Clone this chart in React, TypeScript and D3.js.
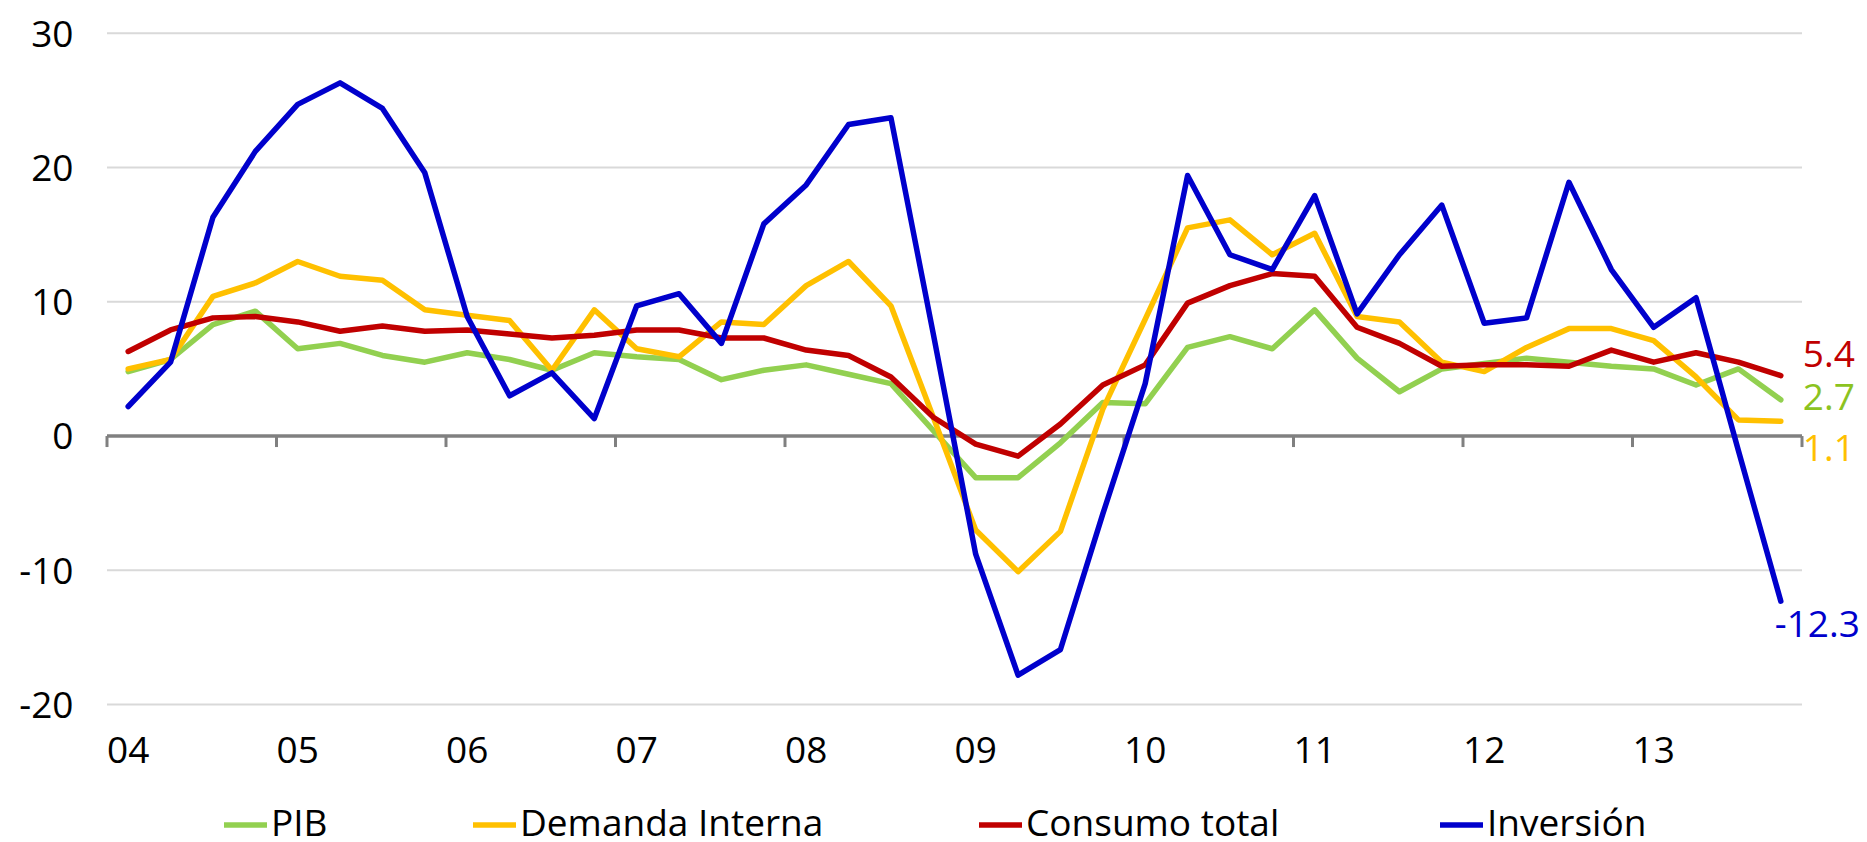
import * as d3 from "d3";

// quarters 2004 Q1 .. 2013 Q4
const years = ["04", "05", "06", "07", "08", "09", "10", "11", "12", "13"];
const quarters = d3.range(40);

const pib = [
  4.8, 5.7, 8.3, 9.3, 6.5, 6.9, 6.0, 5.5, 6.2, 5.7, 4.9, 6.2, 5.9, 5.7, 4.2, 4.9, 5.3, 4.6, 3.9, 0.4,
  -3.1, -3.1, -0.5, 2.5, 2.4, 6.6, 7.4, 6.5, 9.4, 5.8, 3.3, 5.0, 5.4, 5.8, 5.5, 5.2, 5.0, 3.8, 5.0, 2.7,
];
const demanda = [
  5.0, 5.7, 10.4, 11.4, 13.0, 11.9, 11.6, 9.4, 9.0, 8.6, 4.9, 9.4, 6.5, 5.9, 8.5, 8.3, 11.2, 13.0, 9.7, 1.4,
  -7.0, -10.1, -7.1, 2.0, 8.7, 15.5, 16.1, 13.5, 15.1, 8.9, 8.5, 5.5, 4.8, 6.6, 8.0, 8.0, 7.1, 4.4, 1.2, 1.1,
];
const consumo = [
  6.3, 7.9, 8.8, 8.9, 8.5, 7.8, 8.2, 7.8, 7.9, 7.6, 7.3, 7.5, 7.9, 7.9, 7.3, 7.3, 6.4, 6.0, 4.4, 1.4,
  -0.6, -1.5, 0.9, 3.8, 5.3, 9.9, 11.2, 12.1, 11.9, 8.1, 6.9, 5.2, 5.3, 5.3, 5.2, 6.4, 5.5, 6.2, 5.5, 4.5,
];
const inversion = [
  2.2, 5.5, 16.3, 21.2, 24.7, 26.3, 24.4, 19.6, 8.9, 3.0, 4.7, 1.3, 9.7, 10.6, 6.9, 15.8, 18.7, 23.2, 23.7, 7.6,
  -8.8, -17.8, -15.9, -5.8, 3.9, 19.4, 13.5, 12.4, 17.9, 9.1, 13.5, 17.2, 8.4, 8.8, 18.9, 12.4, 8.1, 10.3, -1.1, -12.3,
];

const seriesNames = ["PIB", "Demanda Interna", "Consumo total", "Inversión"];
const endLabels = ["2.7", "1.1", "5.4", "-12.3"];
const yTicks = [30, 20, 10, 0, -10, -20];

const series = [
  { name: seriesNames[0], values: pib, color: "#92D050", text: "#8CC31F", label: endLabels[0], dx: 22, dy: 10 },
  { name: seriesNames[1], values: demanda, color: "#FFC000", text: "#FFC000", label: endLabels[1], dx: 22, dy: 40 },
  { name: seriesNames[2], values: consumo, color: "#C00000", text: "#C00000", label: endLabels[2], dx: 22, dy: -9 },
  { name: seriesNames[3], values: inversion, color: "#0000CC", text: "#0000CC", label: endLabels[3], dx: -6, dy: 36 },
];

const legendX = [224, 473, 979, 1440];

export default function App() {
  const width = 1867;
  const height = 842;
  const left = 107;
  const right = 1802;
  const font = "'Open Sans', sans-serif";

  const x = d3.scaleBand<number>().domain(quarters).range([left, right]).padding(0);
  const y = d3.scaleLinear().domain([-20, 30]).range([704.6, 33.2]);
  const cx = (i: number) => (x(i) as number) + x.bandwidth() / 2;

  const line = d3
    .line<number>()
    .x((_, i) => cx(i))
    .y((d) => y(d));

  const tickXs = years.map((_, k) => x(k * 4) as number).concat([right]);

  return (
    <svg
      width={width}
      height={height}
      style={{ position: "absolute", left: 0, top: 0, background: "#fff" }}
      fontFamily={font}
    >
      {/* grid */}
      {yTicks
        .filter((t) => t !== 0)
        .map((t) => (
          <line key={t} x1={left} x2={right} y1={y(t)} y2={y(t)} stroke="#D9D9D9" strokeWidth={2} />
        ))}
      {yTicks.map((t) => (
        <text key={"l" + t} x={73.5} y={y(t) + 13.4} textAnchor="end" fontSize={37} fill="#000">
          {t}
        </text>
      ))}

      {/* zero axis with year ticks */}
      <line x1={left} x2={right} y1={y(0)} y2={y(0)} stroke="#808080" strokeWidth={3.5} />
      {tickXs.map((tx, k) => (
        <line key={"t" + k} x1={tx} x2={tx} y1={y(0)} y2={y(0) + 11} stroke="#808080" strokeWidth={3} />
      ))}

      {years.map((yr, k) => (
        <text key={yr} x={cx(k * 4)} y={763} textAnchor="middle" fontSize={37} fill="#000">
          {yr}
        </text>
      ))}

      {series.map((s) => (
        <path
          key={s.name}
          d={line(s.values) || ""}
          fill="none"
          stroke={s.color}
          strokeWidth={5.5}
          strokeLinejoin="round"
          strokeLinecap="round"
        />
      ))}

      {series.map((s) => {
        const last = s.values.length - 1;
        return (
          <text key={"e" + s.name} x={cx(last) + s.dx} y={y(s.values[last]) + s.dy} fontSize={37} fill={s.text}>
            {s.label}
          </text>
        );
      })}

      {/* legend */}
      {series.map((s, i) => (
        <g key={"lg" + s.name} transform={`translate(${legendX[i]},0)`}>
          <line x1={0} x2={43} y1={825} y2={825} stroke={s.color} strokeWidth={5.5} />
          <text x={47} y={836} fontSize={37} fill="#000">
            {s.name}
          </text>
        </g>
      ))}
    </svg>
  );
}
